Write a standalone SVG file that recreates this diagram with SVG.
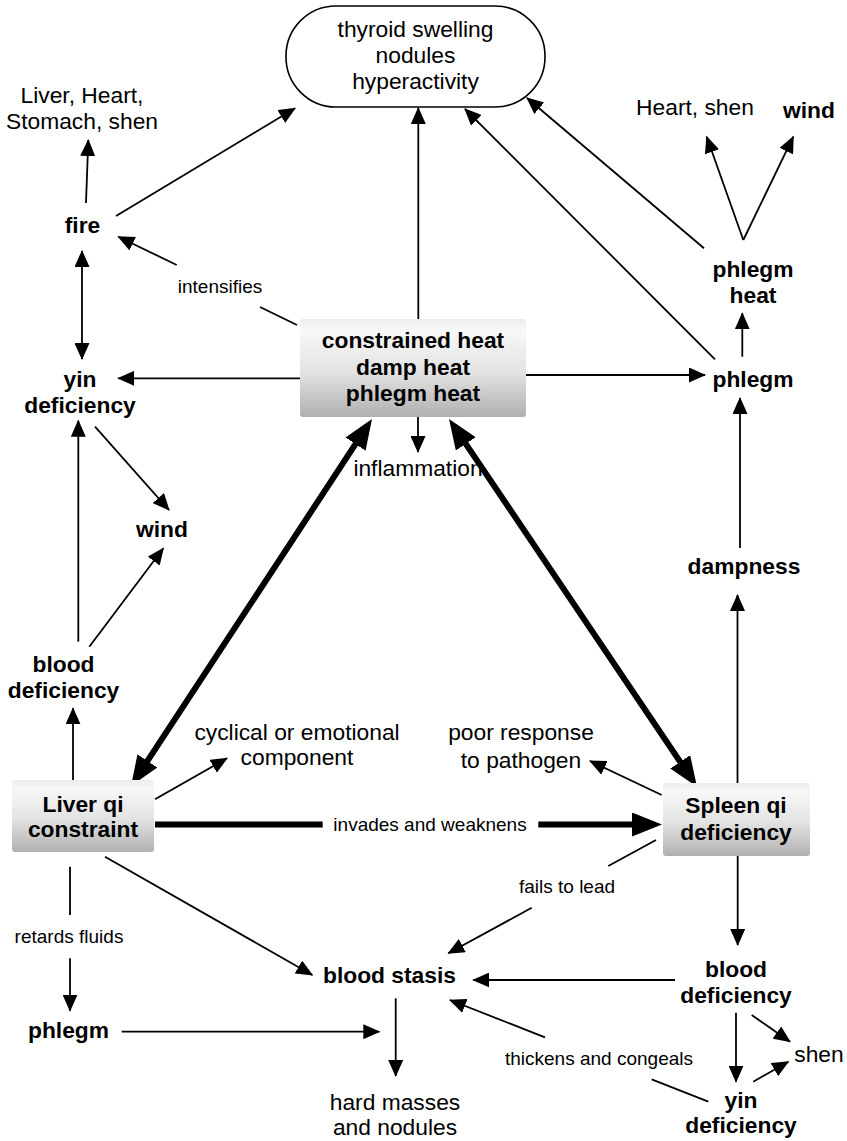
<svg xmlns="http://www.w3.org/2000/svg" width="847" height="1141" viewBox="0 0 847 1141">
<defs>
<style>
text{font-family:"Liberation Sans",Arial,Helvetica,sans-serif;fill:#000;text-anchor:middle}
.b{font-weight:bold;font-size:22.8px}
.r{font-size:22.8px}
.s{font-size:19px}
.c{fill:none;stroke:#000;stroke-width:1.8}
.t{fill:none;stroke:#000;stroke-width:6}
.box{fill:url(#g);stroke:none}
</style>
<linearGradient id="g" x1="0" y1="0" x2="0" y2="1">
<stop offset="0" stop-color="#ececec"/>
<stop offset="0.12" stop-color="#f8f8f8"/>
<stop offset="0.55" stop-color="#e2e2e2"/>
<stop offset="1" stop-color="#b0b0b0"/>
</linearGradient>
<marker id="a" markerUnits="userSpaceOnUse" markerWidth="18" markerHeight="15" refX="16" refY="7.5" orient="auto-start-reverse">
<path d="M0,0 L17,7.5 L0,15 z" fill="#000"/>
</marker>
<marker id="T" markerUnits="userSpaceOnUse" markerWidth="31" markerHeight="25" refX="22" refY="12" orient="auto-start-reverse">
<path d="M0,0 L30,12 L0,24 z" fill="#000"/>
</marker>
</defs>
<rect width="847" height="1141" fill="#fff"/>

<g id="connectors">
<path class="c" d="M86,203 L88.3,140" marker-end="url(#a)"/>
<path class="c" d="M116,216 L295,108.3" marker-end="url(#a)"/>
<path class="c" d="M297,325 L260,307 M176.7,265 L118.3,236.7" marker-end="url(#a)"/>
<path class="c" d="M82,251 L82,359" marker-start="url(#a)" marker-end="url(#a)"/>
<path class="c" d="M300,378.3 L118.3,378.3" marker-end="url(#a)"/>
<path class="c" d="M418.3,319 L418.3,108" marker-end="url(#a)"/>
<path class="c" d="M95,426.7 L169,510" marker-end="url(#a)"/>
<path class="c" d="M78.3,641.7 L78.3,420.7" marker-end="url(#a)"/>
<path class="c" d="M89.3,646.7 L163.3,548.3" marker-end="url(#a)"/>
<path class="c" d="M73,780 L73,708.3" marker-end="url(#a)"/>
<path class="c" d="M155,799.3 L227,758.3" marker-end="url(#a)"/>
<path class="c" d="M105,856.7 L312.3,975" marker-end="url(#a)"/>
<path class="c" d="M70,866.7 L70,915 M70,958.3 L70,1010.7" marker-end="url(#a)"/>
<path class="c" d="M121.7,1031.7 L379.3,1031.7" marker-end="url(#a)"/>
<path class="c" d="M395.7,998.3 L395.7,1076" marker-end="url(#a)"/>
<path class="c" d="M418,417 L418,452" marker-end="url(#a)"/>
<path class="c" d="M526,375 L705,375" marker-end="url(#a)"/>
<path class="c" d="M742.3,356.7 L742.3,313.3" marker-end="url(#a)"/>
<path class="c" d="M743.3,240 L706.7,136.7" marker-end="url(#a)"/>
<path class="c" d="M743.3,240 L793.3,136.7" marker-end="url(#a)"/>
<path class="c" d="M704,248.3 L527,98" marker-end="url(#a)"/>
<path class="c" d="M715,359.3 L465,109" marker-end="url(#a)"/>
<path class="c" d="M740,548 L740,398" marker-end="url(#a)"/>
<path class="c" d="M737.5,783 L737.5,595" marker-end="url(#a)"/>
<path class="c" d="M661.7,795 L590,761" marker-end="url(#a)"/>
<path class="c" d="M656,840 L608.3,866 M531.7,907.8 L448.3,953.3" marker-end="url(#a)"/>
<path class="c" d="M737.7,856 L737.7,945" marker-end="url(#a)"/>
<path class="c" d="M675,980 L473.3,980" marker-end="url(#a)"/>
<path class="c" d="M736,1012.7 L736,1081.7" marker-end="url(#a)"/>
<path class="c" d="M751.7,1015 L790,1041.7" marker-end="url(#a)"/>
<path class="c" d="M753.3,1081.7 L788.3,1061.7" marker-end="url(#a)"/>
<path class="c" d="M708.3,1101.7 L651.7,1079.4 M545,1037.4 L450,1000" marker-end="url(#a)"/>
<path class="t" d="M135.4,779.3 L367.6,425.7" marker-start="url(#T)" marker-end="url(#T)"/>
<path class="t" d="M453.5,425.6 L692.5,780.1" marker-start="url(#T)" marker-end="url(#T)"/>
<path class="t" d="M155,824.5 L322.7,824.5 M538.3,824.5 L654,824.5" marker-end="url(#T)"/>
<text class="s" x="220" y="293">intensifies</text>
<text class="s" x="430" y="830.5">invades and weaknens</text>
<text class="s" x="567" y="893">fails to lead</text>
<text class="s" x="69" y="943">retards fluids</text>
<text class="s" x="599" y="1065">thickens and congeals</text>
</g>

<g id="n-thyroid">
<rect x="286" y="6" width="259" height="101" rx="50" ry="50" fill="#fff" stroke="#000" stroke-width="1.6"/>
<text class="r" x="415.5" y="36.5">thyroid swelling</text>
<text class="r" x="415.5" y="62.5">nodules</text>
<text class="r" x="415.5" y="88.5">hyperactivity</text>
</g>
<g id="n-organs"><text class="r" x="82" y="103">Liver, Heart,</text><text class="r" x="82" y="129">Stomach, shen</text></g>
<g id="n-fire"><text class="b" x="82.5" y="233">fire</text></g>
<g id="n-yin-l"><text class="b" x="80" y="387">yin</text><text class="b" x="80" y="413">deficiency</text></g>
<g id="n-wind-l"><text class="b" x="162" y="537">wind</text></g>
<g id="n-blood-l"><text class="b" x="63.5" y="672">blood</text><text class="b" x="63.5" y="698">deficiency</text></g>
<g id="n-liver">
<rect class="box" x="12" y="780" width="142" height="72" rx="3"/>
<text class="b" x="83" y="812">Liver qi</text><text class="b" x="83" y="837">constraint</text>
</g>
<g id="n-cyclical"><text class="r" x="297" y="740">cyclical or emotional</text><text class="r" x="297" y="765">component</text></g>
<g id="n-heat">
<rect class="box" x="300" y="319" width="226" height="98" rx="3"/>
<text class="b" x="413" y="348">constrained heat</text>
<text class="b" x="413" y="375">damp heat</text>
<text class="b" x="413" y="401">phlegm heat</text>
</g>
<g id="n-inflammation"><text class="r" x="418" y="476">inflammation</text></g>
<g id="n-heartshen"><text class="r" x="695" y="115">Heart, shen</text></g>
<g id="n-wind-r"><text class="b" x="809" y="118">wind</text></g>
<g id="n-phlegmheat"><text class="b" x="753" y="277">phlegm</text><text class="b" x="753" y="303">heat</text></g>
<g id="n-phlegm-r"><text class="b" x="753" y="387">phlegm</text></g>
<g id="n-dampness"><text class="b" x="744" y="574">dampness</text></g>
<g id="n-poor"><text class="r" x="521" y="740">poor response</text><text class="r" x="521" y="768">to pathogen</text></g>
<g id="n-spleen">
<rect class="box" x="663" y="783" width="147" height="73" rx="3"/>
<text class="b" x="736" y="813">Spleen qi</text><text class="b" x="736" y="840">deficiency</text>
</g>
<g id="n-stasis"><text class="b" x="389.5" y="983">blood stasis</text></g>
<g id="n-phlegm-l"><text class="b" x="68.5" y="1038">phlegm</text></g>
<g id="n-masses"><text class="r" x="395" y="1110">hard masses</text><text class="r" x="395" y="1135">and nodules</text></g>
<g id="n-blood-r"><text class="b" x="736" y="977">blood</text><text class="b" x="736" y="1003">deficiency</text></g>
<g id="n-shen"><text class="r" x="819" y="1062">shen</text></g>
<g id="n-yin-r"><text class="b" x="741" y="1108">yin</text><text class="b" x="741" y="1133">deficiency</text></g>
</svg>
